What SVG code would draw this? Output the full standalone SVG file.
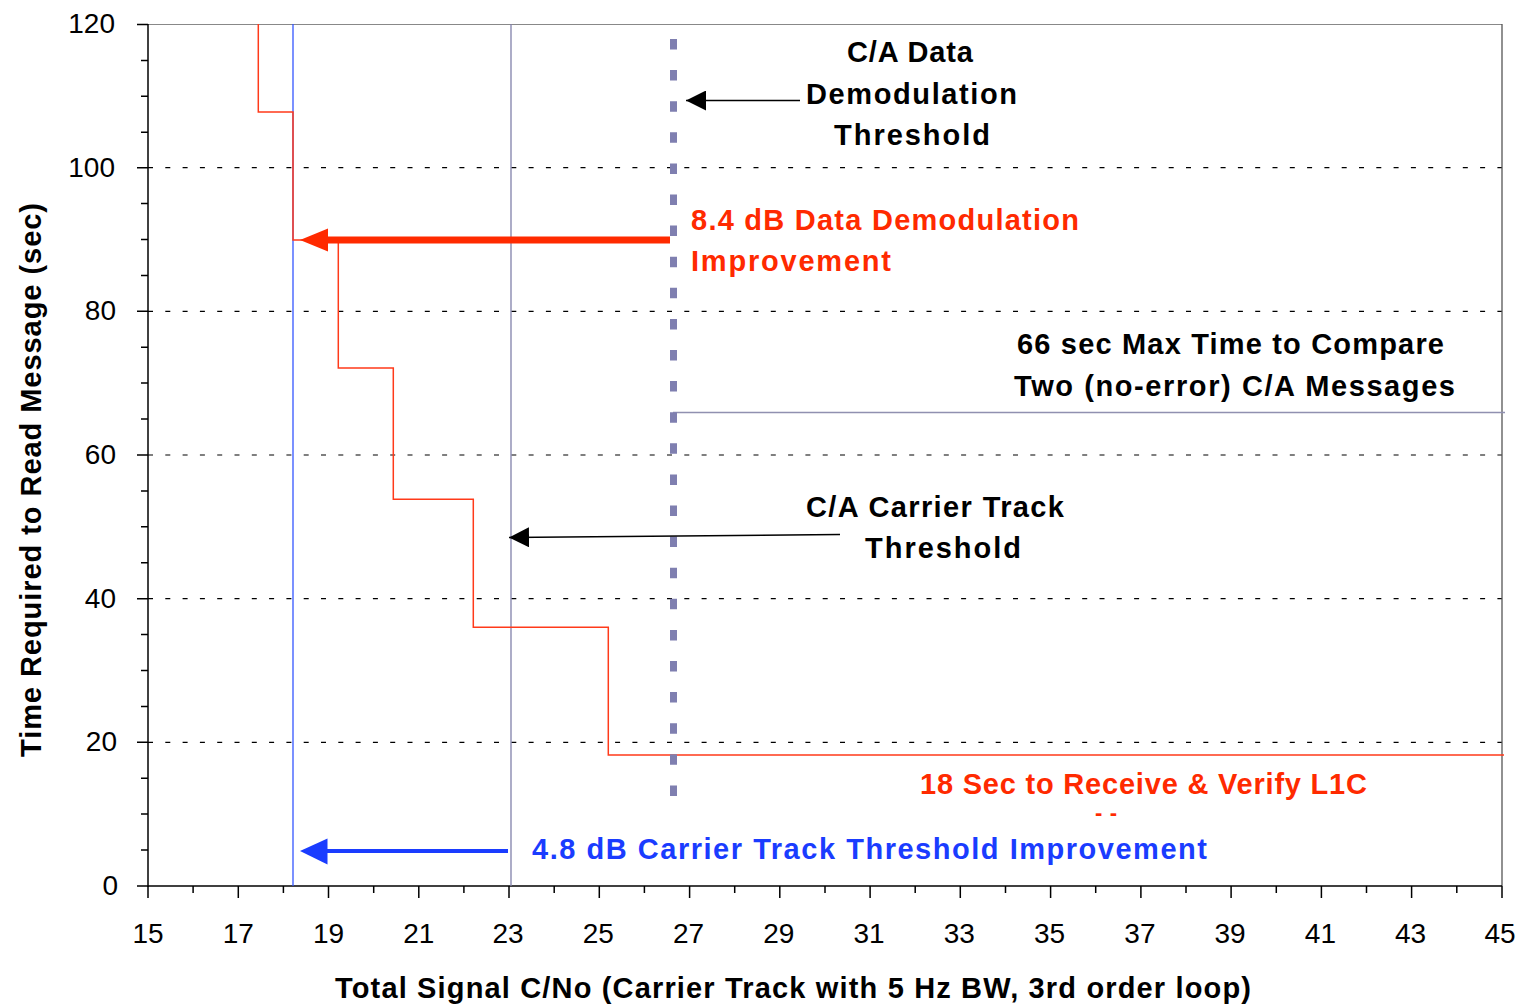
<svg xmlns="http://www.w3.org/2000/svg" width="1524" height="1005" viewBox="0 0 1524 1005">
<defs>
<style>
.b{font-family:"Liberation Sans",Arial,sans-serif;font-weight:bold;font-size:29px;}
.tick{font-family:"Liberation Sans",Arial,sans-serif;font-size:28px;fill:#000;}
.grid{stroke:#000;stroke-width:1.2;stroke-dasharray:5 12.3;fill:none;}
.ax{stroke:#000;stroke-width:1.5;fill:none;}
.red{fill:#ff2a00;}
.blue{fill:#1a3cff;}
</style>
<marker id="ah" viewBox="0 0 10 10" refX="10" refY="5" markerWidth="20" markerHeight="20" markerUnits="userSpaceOnUse" orient="auto"><path d="M0,0 L10,5 L0,10 z" fill="#000"/></marker>
</defs>
<rect width="1524" height="1005" fill="#fff"/>
<g id="grid">
<line class="grid" x1="148" y1="24.5" x2="1502" y2="24.5"/>
<line class="grid" x1="148" y1="167.7" x2="1502" y2="167.7"/>
<line class="grid" x1="148" y1="311.3" x2="1502" y2="311.3"/>
<line class="grid" x1="148" y1="455" x2="1502" y2="455"/>
<line class="grid" x1="148" y1="598.7" x2="1502" y2="598.7"/>
<line class="grid" x1="148" y1="742.3" x2="1502" y2="742.3"/>
<line x1="148" y1="24.5" x2="1502" y2="24.5" stroke="#888" stroke-width="1"/>
<line x1="1502" y1="24" x2="1502" y2="886" stroke="#555" stroke-width="1.3"/>
</g>
<g id="axes">
<line class="ax" x1="148" y1="24" x2="148" y2="887"/>
<line class="ax" x1="137" y1="886" x2="1502" y2="886"/>
<path class="ax" d="M137,24.5H148M137,167.7H148M137,311.3H148M137,455H148M137,598.7H148M137,742.3H148"/>
<path class="ax" d="M141,60.4H148M141,96.3H148M141,132.2H148M141,203.6H148M141,239.5H148M141,275.4H148M141,347.2H148M141,383.1H148M141,419H148M141,490.9H148M141,526.8H148M141,562.7H148M141,634.6H148M141,670.5H148M141,706.4H148M141,778.2H148M141,814.1H148M141,850H148"/>
<path class="ax" d="M148,886v12M238.3,886v12M328.5,886v12M418.8,886v12M509,886v12M599.3,886v12M689.6,886v12M779.8,886v12M870.1,886v12M960.3,886v12M1050.6,886v12M1140.9,886v12M1231.1,886v12M1321.4,886v12M1411.6,886v12M1502,886v12"/>
<path class="ax" d="M193.1,886v7M283.4,886v7M373.7,886v7M463.9,886v7M554.2,886v7M644.4,886v7M734.7,886v7M825,886v7M915.2,886v7M1005.5,886v7M1095.7,886v7M1186,886v7M1276.3,886v7M1366.5,886v7M1456.8,886v7"/>
</g>
<g id="tick-labels">
<g class="tick" text-anchor="end">
<text x="115" y="33">120</text>
<text x="115" y="177">100</text>
<text x="116" y="320">80</text>
<text x="116" y="464">60</text>
<text x="116" y="608">40</text>
<text x="117" y="751">20</text>
<text x="118" y="895">0</text>
</g>
<g class="tick" text-anchor="middle">
<text x="148" y="943">15</text>
<text x="238.3" y="943">17</text>
<text x="328.5" y="943">19</text>
<text x="418.8" y="943">21</text>
<text x="508" y="943">23</text>
<text x="598.3" y="943">25</text>
<text x="688.6" y="943">27</text>
<text x="778.8" y="943">29</text>
<text x="869.1" y="943">31</text>
<text x="959.3" y="943">33</text>
<text x="1049.6" y="943">35</text>
<text x="1139.9" y="943">37</text>
<text x="1230.1" y="943">39</text>
<text x="1320.4" y="943">41</text>
<text x="1410.6" y="943">43</text>
<text x="1500" y="943">45</text>
</g>
</g>
<g id="axis-titles">
<text class="b" x="335" y="998" textLength="916" lengthAdjust="spacing">Total Signal C/No (Carrier Track with 5 Hz BW, 3rd order loop)</text>
<text class="b" transform="translate(41,757) rotate(-90)" textLength="554" lengthAdjust="spacing">Time Required to Read Message (sec)</text>
</g>
<g id="reference-lines">
<line id="carrier-threshold-line" x1="511" y1="24" x2="511" y2="886" stroke="#8080aa" stroke-width="1.3"/>
<line id="max-time-line" x1="673" y1="412.5" x2="1505" y2="412.5" stroke="#9090b0" stroke-width="1.3"/>
<line id="blue-threshold-line" x1="293" y1="24" x2="293" y2="886" stroke="#3355ff" stroke-width="1.3"/>
</g>
<g id="curve">
<path d="M258.3,24V112H293V240H338.3V368H393.3V499.3H473.3V627.3H608.3V755H1504" fill="none" stroke="#ff3a1a" stroke-width="1.5"/>
</g>
<g id="demod-threshold-line">
<line x1="673.5" y1="39" x2="673.5" y2="808" stroke="#7f7fb0" stroke-width="7" stroke-dasharray="10.5 20.6"/>
</g>
<g id="connectors">
<line x1="800" y1="100.5" x2="686" y2="100.5" stroke="#000" stroke-width="1.5" marker-end="url(#ah)"/>
<line x1="840" y1="534.5" x2="509" y2="537.5" stroke="#000" stroke-width="1.5" marker-end="url(#ah)"/>
<line x1="670" y1="240" x2="325" y2="240" stroke="#ff2a00" stroke-width="7"/>
<path d="M300,240 L328,228.5 L328,251.5 z" fill="#ff2a00"/>
<line x1="508" y1="851" x2="324" y2="851" stroke="#1a3cff" stroke-width="4"/>
<path d="M300,851 L327.5,838.5 L327.5,864.5 z" fill="#1a3cff"/>
</g>
<g id="label-demod-threshold">
<text class="b" x="847" y="62" textLength="126" lengthAdjust="spacing">C/A Data</text>
<text class="b" x="806" y="104" textLength="211" lengthAdjust="spacing">Demodulation</text>
<text class="b" x="834" y="145" textLength="156" lengthAdjust="spacing">Threshold</text>
</g>
<g id="label-demod-improvement">
<text class="b red" x="691" y="230" textLength="388" lengthAdjust="spacing">8.4 dB Data Demodulation</text>
<text class="b red" x="691" y="271" textLength="200" lengthAdjust="spacing">Improvement</text>
</g>
<g id="label-max-time">
<text class="b" x="1017" y="354" textLength="427" lengthAdjust="spacing">66 sec Max Time to Compare</text>
<text class="b" x="1014" y="396" textLength="441" lengthAdjust="spacing">Two (no-error) C/A Messages</text>
</g>
<g id="label-carrier-threshold">
<text class="b" x="806" y="517" textLength="258" lengthAdjust="spacing">C/A Carrier Track</text>
<text class="b" x="865" y="558" textLength="156" lengthAdjust="spacing">Threshold</text>
</g>
<g id="label-l1c">
<text class="b red" x="920" y="794" textLength="447" lengthAdjust="spacing">18 Sec to Receive &amp; Verify L1C</text>
<text class="b red" x="1095" y="820" style="font-size:22px" textLength="22" lengthAdjust="spacing">- -</text>
</g>
<g id="label-carrier-improvement">
<text class="b blue" x="532" y="859" textLength="675" lengthAdjust="spacing">4.8 dB Carrier Track Threshold Improvement</text>
</g>
</svg>
